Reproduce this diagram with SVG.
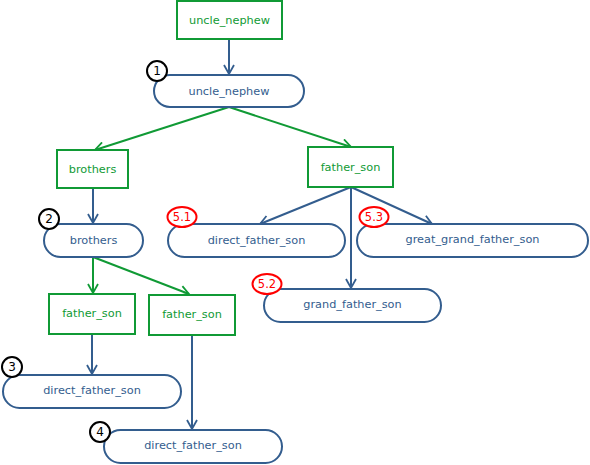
<svg xmlns="http://www.w3.org/2000/svg" width="590" height="465" viewBox="0 0 590 465">
<defs>
<marker id="ab" markerWidth="12" markerHeight="12" refX="10" refY="6" orient="auto" markerUnits="userSpaceOnUse">
<path d="M1,1 L10,6 L1,11" fill="none" stroke="#335d8e" stroke-width="1.8"/>
</marker>
<marker id="ag" markerWidth="12" markerHeight="12" refX="10" refY="6" orient="auto" markerUnits="userSpaceOnUse">
<path d="M1,1 L10,6 L1,11" fill="none" stroke="#109a35" stroke-width="1.8"/>
</marker>
</defs>
<style>
text{font-family:"DejaVu Sans",sans-serif;font-size:11.3px;text-anchor:middle;dominant-baseline:central}
.box rect{fill:#fff;stroke:#109a35;stroke-width:2}
.box text{fill:#109a35}
.pill rect{fill:#fff;stroke:#335d8e;stroke-width:2}
.pill text{fill:#335d8e}
.b{fill:none;stroke:#335d8e;stroke-width:2;marker-end:url(#ab)}
.g{fill:none;stroke:#109a35;stroke-width:2;marker-end:url(#ag)}
.nb circle{fill:#fff;stroke:#000;stroke-width:2}
.nb text{fill:#000;font-size:12px}
.rb ellipse{fill:#fff;stroke:#f00;stroke-width:2}
.rb text{fill:#f00;font-size:11.5px}
</style>
<rect width="590" height="465" fill="#fff"/>
<g id="connectors">
<path class="b" d="M229,39 L229,74"/>
<path class="g" d="M229,107 L95,150"/>
<path class="g" d="M229,107 L351,147"/>
<path class="b" d="M93,188 L93,223"/>
<path class="b" d="M351,187 L260,224"/>
<path class="b" d="M351,187 L351,288"/>
<path class="b" d="M351,187 L432,224"/>
<path class="g" d="M93,257 L93,293"/>
<path class="g" d="M93,257 L189,294"/>
<path class="b" d="M92,334 L92,374"/>
<path class="b" d="M192,335 L192,429"/>
</g>
<g id="n_uncle_nephew_box" class="box"><rect x="177" y="1" width="105" height="38"/><text x="229.5" y="20">uncle_nephew</text></g>
<g id="n_uncle_nephew" class="pill"><rect x="154" y="75" width="150" height="32" rx="16"/><text x="229" y="91">uncle_nephew</text></g>
<g id="n_brothers_box" class="box"><rect x="57" y="150" width="71" height="38"/><text x="92.5" y="169">brothers</text></g>
<g id="n_father_son_box" class="box"><rect x="308" y="147" width="85" height="40"/><text x="350.5" y="167">father_son</text></g>
<g id="n_brothers" class="pill"><rect x="44" y="224" width="99" height="33" rx="16.5"/><text x="93.5" y="240.5">brothers</text></g>
<g id="n_direct_5_1" class="pill"><rect x="168" y="224" width="177" height="33" rx="16.5"/><text x="256.5" y="240.5">direct_father_son</text></g>
<g id="n_great" class="pill"><rect x="357" y="224" width="231" height="33" rx="16.5"/><text x="472.5" y="239.5">great_grand_father_son</text></g>
<g id="n_grand" class="pill"><rect x="264" y="289" width="177" height="33" rx="16.5"/><text x="352.5" y="304">grand_father_son</text></g>
<g id="n_father_son_l" class="box"><rect x="49" y="294" width="86" height="40"/><text x="92" y="313">father_son</text></g>
<g id="n_father_son_r" class="box"><rect x="149" y="295" width="86" height="40"/><text x="192" y="314">father_son</text></g>
<g id="n_direct_3" class="pill"><rect x="3" y="375" width="178" height="33" rx="16.5"/><text x="92" y="390">direct_father_son</text></g>
<g id="n_direct_4" class="pill"><rect x="104" y="430" width="178" height="33" rx="16.5"/><text x="193" y="445">direct_father_son</text></g>
<g id="badge1" class="nb"><circle cx="157" cy="71" r="10"/><text x="157" y="71">1</text></g>
<g id="badge2" class="nb"><circle cx="49" cy="219" r="10"/><text x="49" y="219">2</text></g>
<g id="badge3" class="nb"><circle cx="12" cy="367" r="10"/><text x="12" y="367">3</text></g>
<g id="badge4" class="nb"><circle cx="100" cy="432" r="10"/><text x="100" y="432">4</text></g>
<g id="badge51" class="rb"><ellipse cx="182" cy="217" rx="14.5" ry="10"/><text x="182" y="217">5.1</text></g>
<g id="badge52" class="rb"><ellipse cx="267" cy="284" rx="14.5" ry="10"/><text x="267" y="284">5.2</text></g>
<g id="badge53" class="rb"><ellipse cx="374" cy="217" rx="14.5" ry="10"/><text x="374" y="217">5.3</text></g>
</svg>
